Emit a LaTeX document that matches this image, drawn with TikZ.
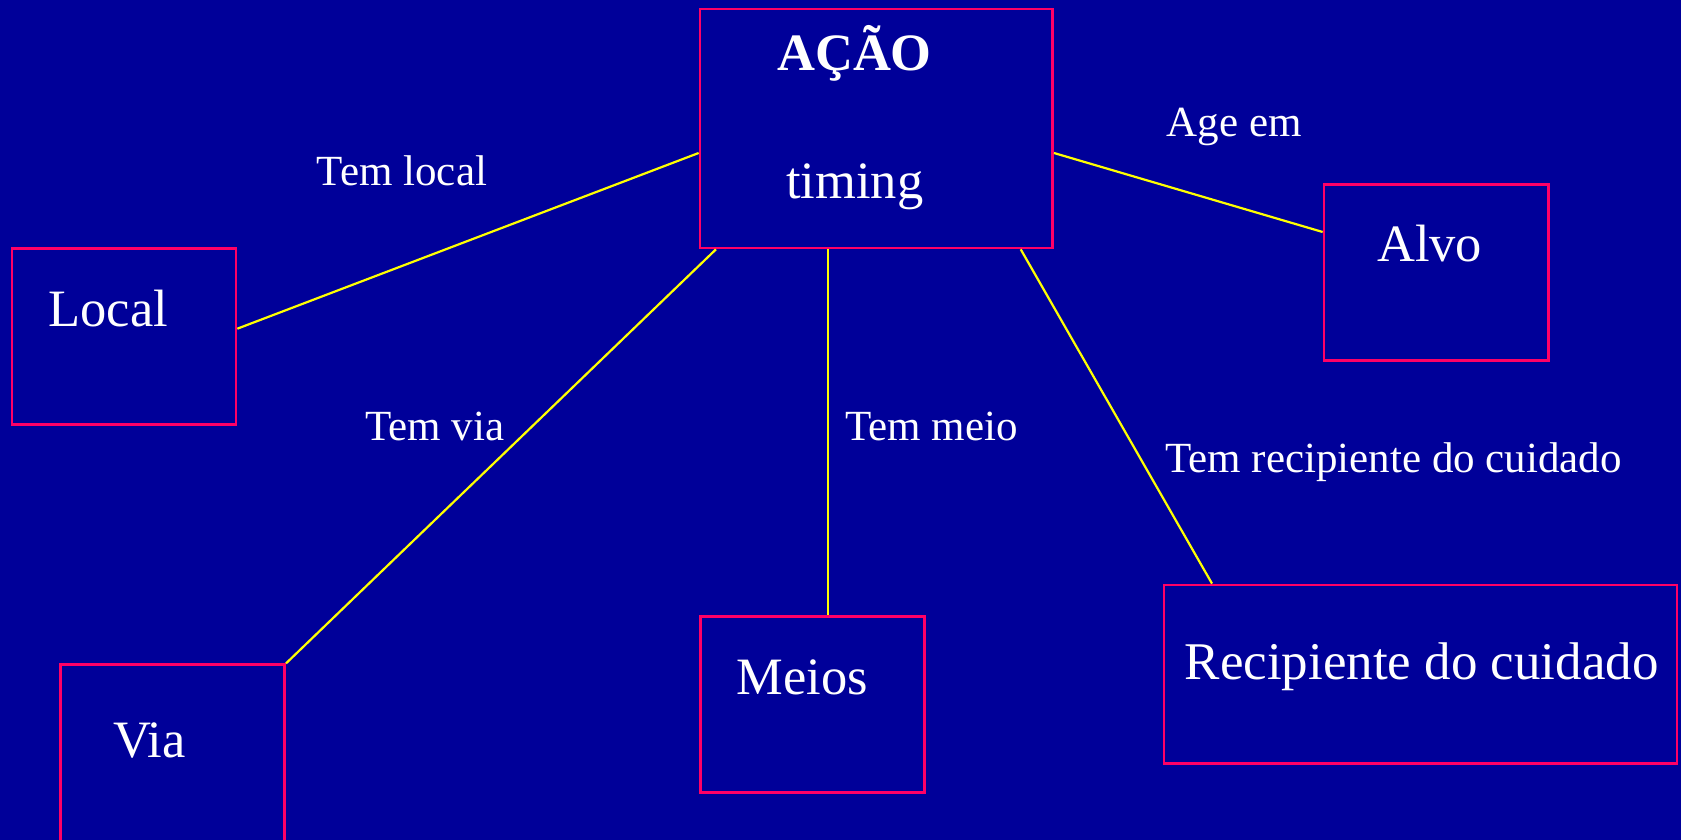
\documentclass[tikz,border=0pt]{standalone}
\usepackage{fontspec}
\setmainfont{Liberation Serif}
\definecolor{slideblue}{RGB}{0,0,153}
\definecolor{boxred}{RGB}{255,0,102}
\definecolor{linkyellow}{RGB}{255,255,0}
\begin{document}
\begin{tikzpicture}[x=1pt, y=-1pt,
  bx/.style={draw=boxred, line width=2.6pt, inner sep=0pt},
  big/.style={text=white, anchor=base west, inner sep=0pt, font=\fontsize{52.5}{60}\selectfont},
  lbl/.style={text=white, anchor=base west, inner sep=0pt, font=\fontsize{43}{50}\selectfont},
  link/.style={draw=linkyellow, line width=2.2pt}]
  % fundo do slide, 1 pt = 1 px
  \clip (0,0) rectangle (1681,840);
  \fill[slideblue] (0,0) rectangle (1681,840);
  % caixas
  \node[bx, minimum width=352.7pt, minimum height=239pt] (acao) at (876.3,128.5) {};
  \node[bx, minimum width=224pt, minimum height=175.6pt] (local) at (124,336.5) {};
  \node[bx, minimum width=224.7pt, minimum height=175.6pt] (alvo) at (1436.3,272.5) {};
  \node[bx, minimum width=224pt, minimum height=190pt] (via) at (172.7,759.7) {};
  \node[bx, minimum width=224.4pt, minimum height=175.6pt] (meios) at (812.5,704.5) {};
  \node[bx, minimum width=512.7pt, minimum height=178.8pt] (recip) at (1420.5,674.3) {};
  % textos das caixas
  \node[big, font=\fontsize{52.5}{60}\selectfont\bfseries] (tacao) at (777,71) {AÇÃO};
  \node[big] (ttiming) at (786,198) {timing};
  \node[big] (tlocal) at (48.3,326.7) {Local};
  \node[big] (talvo) at (1377,261.7) {Alvo};
  \node[big] (tvia) at (113,757.7) {Via};
  \node[big] (tmeios) at (736.7,694.3) {Meios};
  \node[big, font=\fontsize{53}{60}\selectfont] (trecip) at (1184.5,679) {Recipiente do cuidado};
  % rótulos das ligações
  \node[lbl] (llocal) at (316.7,185) {Tem local};
  \node[lbl] (lalvo) at (1166.7,136) {Age em};
  \node[lbl] (lvia) at (365,440.7) {Tem via};
  \node[lbl] (lmeio) at (845,440.7) {Tem meio};
  \node[lbl] (lrecip) at (1165,472.7) {Tem recipiente do cuidado};
  % ligações
  \draw[link] ([yshift=-24.5pt]acao.west) -- ([yshift=7.8pt]local.east);
  \draw[link] ([yshift=-24.5pt]acao.east) -- ([yshift=40.5pt]alvo.west);
  \draw[link] ([xshift=-160.3pt]acao.south) -- (via.north east);
  \draw[link] ([xshift=-48pt]acao.south) -- ([xshift=15.8pt]meios.north);
  \draw[link] ([xshift=144.4pt]acao.south) -- ([xshift=-208.5pt]recip.north);
\end{tikzpicture}
\end{document}
